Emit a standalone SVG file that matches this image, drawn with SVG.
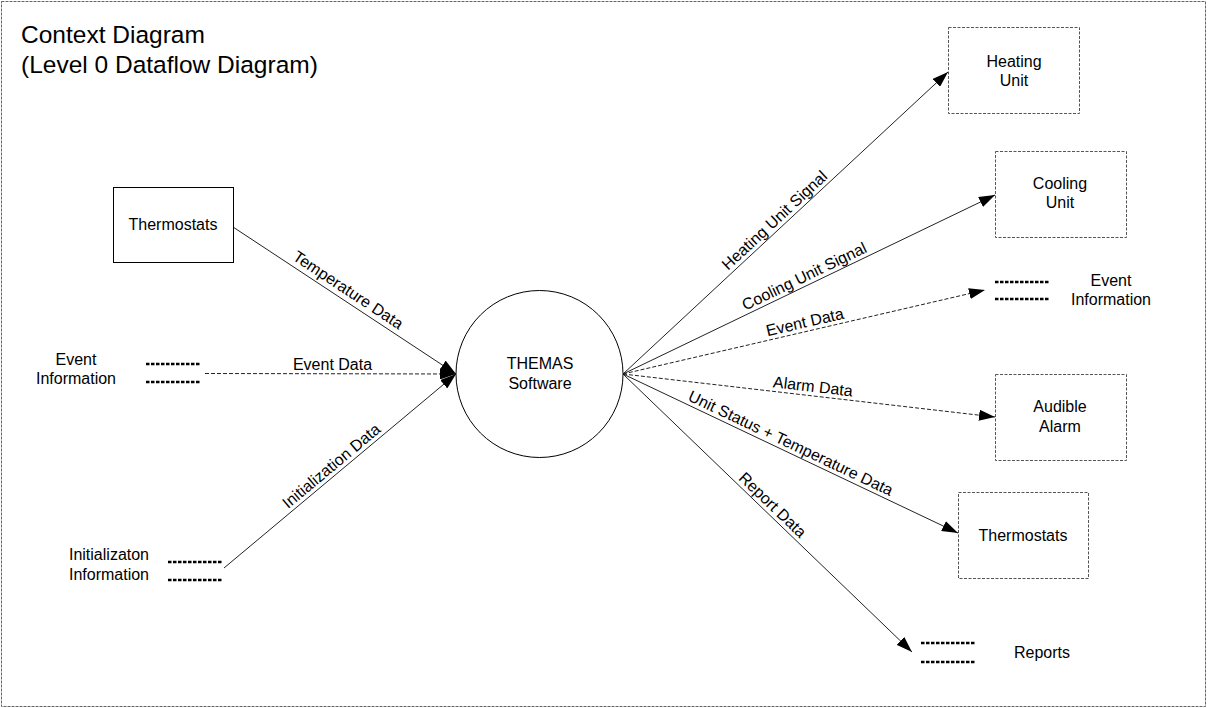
<svg xmlns="http://www.w3.org/2000/svg" width="1208" height="708" viewBox="0 0 1208 708">
<defs>
<style>
text{font-family:"Liberation Sans",Arial,sans-serif;font-size:16px;fill:#000}
.title{font-size:24.5px}
.mid{text-anchor:middle}
.ext{fill:#fff;stroke:#555;stroke-width:1;stroke-dasharray:3,1.5}
.solidbox{fill:#fff;stroke:#000;stroke-width:1}
.store{stroke:#000;stroke-width:2.5;stroke-dasharray:3.5,1.5;fill:none}
.flow{stroke:#222;stroke-width:1;fill:none;marker-end:url(#arr)}
.dash{stroke-dasharray:4,2}
</style>
<marker id="arr" viewBox="0 0 16 11" refX="16" refY="5.5" markerWidth="16" markerHeight="11" markerUnits="userSpaceOnUse" orient="auto">
<path d="M0,0 L16,5.5 L0,11 z" fill="#000"/>
</marker>
</defs>
<rect x="1.5" y="1.5" width="1204" height="705" fill="#fff" stroke="#666" stroke-width="1" stroke-dasharray="3,1"/>
<g id="title">
<text class="title" x="21" y="43">Context Diagram</text>
<text class="title" x="21" y="73">(Level 0 Dataflow Diagram)</text>
</g>
<g id="connectors">
<line class="flow" x1="233" y1="227" x2="456" y2="374"/>
<line class="flow dash" x1="205" y1="373.5" x2="456" y2="374"/>
<line class="flow" x1="224" y1="568" x2="456" y2="374"/>
<line class="flow" x1="623" y1="374" x2="948" y2="72"/>
<line class="flow" x1="623" y1="374" x2="995" y2="195"/>
<line class="flow dash" x1="623" y1="374" x2="985" y2="290"/>
<line class="flow dash" x1="623" y1="374" x2="995" y2="417"/>
<line class="flow" x1="623" y1="374" x2="958" y2="533"/>
<line class="flow" x1="623" y1="374" x2="912" y2="652"/>
<text class="mid" transform="translate(343,297.9) rotate(33.4)" y="-4">Temperature Data</text>
<text class="mid" transform="translate(332.5,374)" y="-4">Event Data</text>
<text class="mid" transform="translate(337.4,473.2) rotate(-39.9)" y="-4">Initialization Data</text>
<text class="mid" transform="translate(781,227.2) rotate(-42.9)" y="-4">Heating Unit Signal</text>
<text class="mid" transform="translate(808.3,284.8) rotate(-25.7)" y="-4">Cooling Unit Signal</text>
<text class="mid" transform="translate(806.9,331.3) rotate(-13.06)" y="-4">Event Data</text>
<text class="mid" transform="translate(811.9,395.8) rotate(6.59)" y="-4">Alarm Data</text>
<text class="mid" transform="translate(786.7,451.7) rotate(25.39)" y="-4">Unit Status + Temperature Data</text>
<text class="mid" transform="translate(766.1,511.7) rotate(43.89)" y="-4">Report Data</text>
</g>
<g id="themas">
<circle cx="539.5" cy="374" r="83.5" fill="#fff" stroke="#000" stroke-width="1"/>
<text class="mid" x="540" y="369">THEMAS</text>
<text class="mid" x="540" y="389">Software</text>
</g>
<g id="thermostats-in">
<rect class="solidbox" x="113.5" y="187.5" width="120" height="75"/>
<text class="mid" x="173" y="230">Thermostats</text>
</g>
<g id="event-info-in">
<line class="store" x1="146" y1="364" x2="200" y2="364"/>
<line class="store" x1="146" y1="382" x2="200" y2="382"/>
<text class="mid" x="76" y="365">Event</text>
<text class="mid" x="76" y="384">Information</text>
</g>
<g id="init-info">
<line class="store" x1="168" y1="562" x2="223" y2="562"/>
<line class="store" x1="168" y1="580" x2="223" y2="580"/>
<text class="mid" x="109" y="560">Initializaton</text>
<text class="mid" x="109" y="580">Information</text>
</g>
<g id="heating-unit">
<rect class="ext" x="948.5" y="27.5" width="131" height="86"/>
<text class="mid" x="1014" y="67">Heating</text>
<text class="mid" x="1014" y="86">Unit</text>
</g>
<g id="cooling-unit">
<rect class="ext" x="995.5" y="151.5" width="131" height="86"/>
<text class="mid" x="1060" y="189">Cooling</text>
<text class="mid" x="1060" y="208">Unit</text>
</g>
<g id="event-info-out">
<line class="store" x1="995" y1="282" x2="1050" y2="282"/>
<line class="store" x1="995" y1="299" x2="1050" y2="299"/>
<text class="mid" x="1111" y="286">Event</text>
<text class="mid" x="1111" y="305">Information</text>
</g>
<g id="audible-alarm">
<rect class="ext" x="995.5" y="374.5" width="131" height="86"/>
<text class="mid" x="1060" y="412">Audible</text>
<text class="mid" x="1060" y="432">Alarm</text>
</g>
<g id="thermostats-out">
<rect class="ext" x="958.5" y="492.5" width="130" height="86"/>
<text class="mid" x="1023" y="541">Thermostats</text>
</g>
<g id="reports">
<line class="store" x1="921" y1="643" x2="976" y2="643"/>
<line class="store" x1="921" y1="662" x2="976" y2="662"/>
<text class="mid" x="1042" y="658">Reports</text>
</g>
</svg>
